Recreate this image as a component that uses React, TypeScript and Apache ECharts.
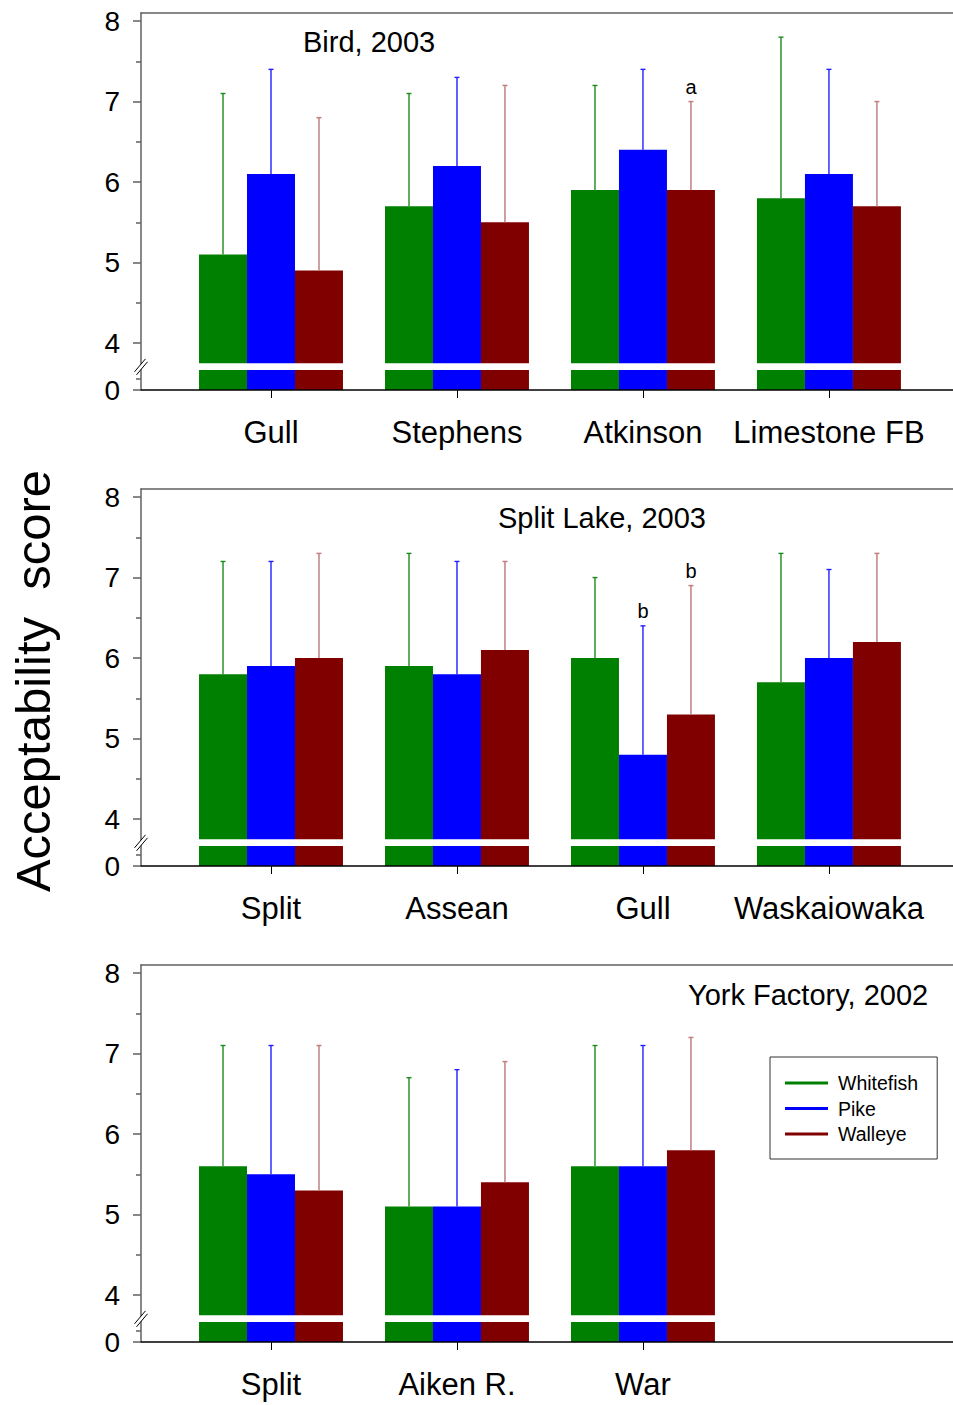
import React, { useEffect, useRef } from "react";
import * as echarts from "echarts";

// ---------- data ----------
const SPECIES = ["Whitefish", "Pike", "Walleye"];
const COLORS = ["#008000", "#0000ff", "#800000"];
const ERR_COLORS = ["#1a8c1a", "#2020ff", "#c08080"];
const ERR_WIDTHS = [1.4, 1.4, 1.5];

const BIRD_TITLE = "Bird, 2003";
const BIRD_CATS = ["Gull", "Stephens", "Atkinson", "Limestone FB"];
const BIRD_WHITEFISH = [5.1, 5.7, 5.9, 5.8];
const BIRD_WHITEFISH_ERR = [7.1, 7.1, 7.2, 7.8];
const BIRD_PIKE = [6.1, 6.2, 6.4, 6.1];
const BIRD_PIKE_ERR = [7.4, 7.3, 7.4, 7.4];
const BIRD_WALLEYE = [4.9, 5.5, 5.9, 5.7];
const BIRD_WALLEYE_ERR = [6.8, 7.2, 7.0, 7.0];
const BIRD_WHITEFISH_SIG = ["", "", "", ""];
const BIRD_PIKE_SIG = ["", "", "", ""];
const BIRD_WALLEYE_SIG = ["", "", "a", ""];

const SPLIT_TITLE = "Split Lake, 2003";
const SPLIT_CATS = ["Split", "Assean", "Gull", "Waskaiowaka"];
const SPLIT_WHITEFISH = [5.8, 5.9, 6.0, 5.7];
const SPLIT_WHITEFISH_ERR = [7.2, 7.3, 7.0, 7.3];
const SPLIT_PIKE = [5.9, 5.8, 4.8, 6.0];
const SPLIT_PIKE_ERR = [7.2, 7.2, 6.4, 7.1];
const SPLIT_WALLEYE = [6.0, 6.1, 5.3, 6.2];
const SPLIT_WALLEYE_ERR = [7.3, 7.2, 6.9, 7.3];
const SPLIT_WHITEFISH_SIG = ["", "", "", ""];
const SPLIT_PIKE_SIG = ["", "", "b", ""];
const SPLIT_WALLEYE_SIG = ["", "", "b", ""];

const YORK_TITLE = "York Factory, 2002";
const YORK_CATS = ["Split", "Aiken R.", "War"];
const YORK_WHITEFISH = [5.6, 5.1, 5.6];
const YORK_WHITEFISH_ERR = [7.1, 6.7, 7.1];
const YORK_PIKE = [5.5, 5.1, 5.6];
const YORK_PIKE_ERR = [7.1, 6.8, 7.1];
const YORK_WALLEYE = [5.3, 5.4, 5.8];
const YORK_WALLEYE_ERR = [7.1, 6.9, 7.2];
const YORK_WHITEFISH_SIG = ["", "", ""];
const YORK_PIKE_SIG = ["", "", ""];
const YORK_WALLEYE_SIG = ["", "", ""];

const Y_MAJOR_TICKS = [4, 5, 6, 7, 8];
const Y_MINOR_TICKS = [4.5, 5.5, 6.5, 7.5];
const Y_AXIS_TITLE = "Acceptability  score";

// ---------- layout / scale constants ----------
const FONT = "'Liberation Sans', Arial, Helvetica, sans-serif";
const YMIN = 3.417; // position of the "0" of the broken axis
const YMAX = 8.1;
const BREAK_HI = 3.748;
const BREAK_LO = 3.665;
const BREAK_MID = 3.705;
const LOW_TICK = 3.553;
const XMIN = -0.699;
const XMAX = 3.667;
const BAR_W = 0.258;
const PANEL_TOP = [13, 489, 965];
const GRID_H = 377;

const PANELS = [
  {
    title: BIRD_TITLE, titleLeft: 303, titleTop: 27, cats: BIRD_CATS,
    means: [BIRD_WHITEFISH, BIRD_PIKE, BIRD_WALLEYE],
    errs: [BIRD_WHITEFISH_ERR, BIRD_PIKE_ERR, BIRD_WALLEYE_ERR],
    sigs: [BIRD_WHITEFISH_SIG, BIRD_PIKE_SIG, BIRD_WALLEYE_SIG],
  },
  {
    title: SPLIT_TITLE, titleLeft: 498, titleTop: 503, cats: SPLIT_CATS,
    means: [SPLIT_WHITEFISH, SPLIT_PIKE, SPLIT_WALLEYE],
    errs: [SPLIT_WHITEFISH_ERR, SPLIT_PIKE_ERR, SPLIT_WALLEYE_ERR],
    sigs: [SPLIT_WHITEFISH_SIG, SPLIT_PIKE_SIG, SPLIT_WALLEYE_SIG],
  },
  {
    title: YORK_TITLE, titleLeft: 688, titleTop: 980, cats: YORK_CATS,
    means: [YORK_WHITEFISH, YORK_PIKE, YORK_WALLEYE],
    errs: [YORK_WHITEFISH_ERR, YORK_PIKE_ERR, YORK_WALLEYE_ERR],
    sigs: [YORK_WHITEFISH_SIG, YORK_PIKE_SIG, YORK_WALLEYE_SIG],
  },
];

function makeBarRender(s: number, sig: string[]) {
  return (params: any, api: any) => {
    const i = api.value(0);
    const m = api.value(1);
    const e = api.value(2);
    const xc = i + (s - 1) * BAR_W;
    const pL = api.coord([xc - BAR_W / 2, m]);
    const pR = api.coord([xc + BAR_W / 2, m]);
    const yHi = api.coord([xc, BREAK_HI])[1];
    const yLo = api.coord([xc, BREAK_LO])[1];
    const y0 = api.coord([xc, YMIN])[1];
    const pE = api.coord([xc, e]);
    const w = pR[0] - pL[0];
    const color = COLORS[s];
    const ec = ERR_COLORS[s];
    const lw = ERR_WIDTHS[s];
    const ex = pE[0];
    const ey = pE[1];
    const children: any[] = [
      { type: "rect", shape: { x: pL[0], y: pL[1], width: w, height: yHi - pL[1] }, style: { fill: color } },
      { type: "rect", shape: { x: pL[0], y: yLo, width: w, height: y0 - yLo }, style: { fill: color } },
      { type: "line", shape: { x1: ex, y1: pL[1], x2: ex, y2: ey }, style: { stroke: ec, lineWidth: lw } },
      { type: "line", shape: { x1: ex - 2.5, y1: ey, x2: ex + 2.5, y2: ey }, style: { stroke: ec, lineWidth: lw } },
    ];
    const t = sig[params.dataIndex];
    if (t) {
      children.push({
        type: "text",
        x: pE[0],
        y: pE[1] - 5,
        style: { text: t, fontSize: 20, fontFamily: FONT, fill: "#000", align: "center", verticalAlign: "bottom" },
      });
    }
    return { type: "group", children };
  };
}

function breakRender(_params: any, api: any) {
  const c = api.coord([api.value(0), api.value(1)]);
  const cx = c[0];
  const cy = c[1];
  return {
    type: "group",
    children: [
      {
        type: "polygon",
        shape: { points: [[cx - 6.5, cy + 5], [cx + 4.5, cy - 8], [cx + 6.5, cy - 5], [cx - 4.5, cy + 8]] },
        style: { fill: "#fff" },
      },
      { type: "line", shape: { x1: cx - 6.5, y1: cy + 5, x2: cx + 4.5, y2: cy - 8 }, style: { stroke: "#000", lineWidth: 1 } },
      { type: "line", shape: { x1: cx - 4.5, y1: cy + 8, x2: cx + 6.5, y2: cy - 5 }, style: { stroke: "#000", lineWidth: 1 } },
    ],
  };
}

function buildOption() {
  const grid: any[] = [];
  const xAxis: any[] = [];
  const yAxis: any[] = [];
  const series: any[] = [];
  const title: any[] = [];

  PANELS.forEach((p, pi) => {
    grid.push({ left: 141, right: 0, top: PANEL_TOP[pi], height: GRID_H });
    const catIdx = p.cats.map((_, i) => i);
    xAxis.push({
      type: "value", gridIndex: pi, min: XMIN, max: XMAX, position: "bottom", z: 5,
      axisLine: { show: true, onZero: false, lineStyle: { color: "#000", width: 1.5 } },
      axisTick: { show: true, length: 8, customValues: catIdx, lineStyle: { color: "#000", width: 1 } },
      axisLabel: {
        show: true, customValues: catIdx, margin: 27, fontSize: 31, fontFamily: FONT, color: "#000",
        formatter: (v: number) => p.cats[Math.round(v)] ?? "",
      },
      splitLine: { show: false },
    });
    xAxis.push({
      type: "value", gridIndex: pi, min: XMIN, max: XMAX, position: "top", z: 5,
      axisLine: { show: true, onZero: false, lineStyle: { color: "#606060", width: 1.5 } },
      axisTick: { show: false }, axisLabel: { show: false }, splitLine: { show: false },
    });
    const majors = [YMIN, ...Y_MAJOR_TICKS];
    yAxis.push({
      type: "value", gridIndex: pi, min: YMIN, max: YMAX, position: "left", z: 5,
      axisLine: { show: true, onZero: false, lineStyle: { color: "#606060", width: 1.5 } },
      axisTick: { show: true, length: 8, customValues: majors, lineStyle: { color: "#606060", width: 1.5 } },
      axisLabel: {
        show: true, customValues: majors, margin: 21, fontSize: 28, fontFamily: FONT, color: "#000",
        formatter: (v: number) => (v < 3.9 ? "0" : String(Math.round(v))),
      },
      splitLine: { show: false },
    });
    yAxis.push({
      type: "value", gridIndex: pi, min: YMIN, max: YMAX, position: "left", z: 5,
      axisLine: { show: false, onZero: false },
      axisTick: { show: true, length: 5, customValues: [LOW_TICK, ...Y_MINOR_TICKS], lineStyle: { color: "#606060", width: 1.5 } },
      axisLabel: { show: false }, splitLine: { show: false },
    });
    SPECIES.forEach((name, s) => {
      series.push({
        type: "custom", name, xAxisIndex: pi * 2, yAxisIndex: pi * 2, z: 2,
        itemStyle: { color: COLORS[s] },
        encode: { x: 0, y: 1 },
        data: p.cats.map((_, i) => [i, p.means[s][i], p.errs[s][i]]),
        renderItem: makeBarRender(s, p.sigs[s]),
        silent: true,
      });
    });
    series.push({
      type: "custom", name: "break" + pi, xAxisIndex: pi * 2, yAxisIndex: pi * 2, z: 10,
      encode: { x: 0, y: 1 }, data: [[XMIN, BREAK_MID]], renderItem: breakRender, silent: true,
    });
    title.push({
      text: p.title, left: p.titleLeft, top: p.titleTop, padding: 0,
      textStyle: { fontSize: 29, fontWeight: "normal", fontFamily: FONT, color: "#000" },
    });
  });

  return {
    animation: false,
    backgroundColor: "#fff",
    title,
    grid,
    xAxis,
    yAxis,
    series,
    legend: {
      data: SPECIES.map((n, i) => ({ name: n, icon: "rect", itemStyle: { color: COLORS[i] } })),
      orient: "vertical", left: 770, top: 1057,
      itemWidth: 43, itemHeight: 3, itemGap: 5.5,
      padding: [16, 19, 15, 15],
      borderColor: "#333", borderWidth: 1,
      selectedMode: false,
      textStyle: { fontSize: 19.5, fontFamily: FONT, color: "#000", padding: [0, 0, 0, 5] },
    },
    graphic: [
      {
        type: "text", x: 33, y: 681, rotation: Math.PI / 2,
        style: { text: Y_AXIS_TITLE, fontSize: 49, fontFamily: FONT, fill: "#000", align: "center", verticalAlign: "middle" },
      },
    ],
  };
}

export default function App() {
  const ref = useRef<HTMLDivElement>(null);
  useEffect(() => {
    document.body.style.margin = "0";
    if (!ref.current) return;
    const chart = echarts.init(ref.current, undefined, { renderer: "svg" });
    chart.setOption(buildOption() as any);
    return () => chart.dispose();
  }, []);
  return <div ref={ref} style={{ width: 953, height: 1405, background: "#fff" }} />;
}
